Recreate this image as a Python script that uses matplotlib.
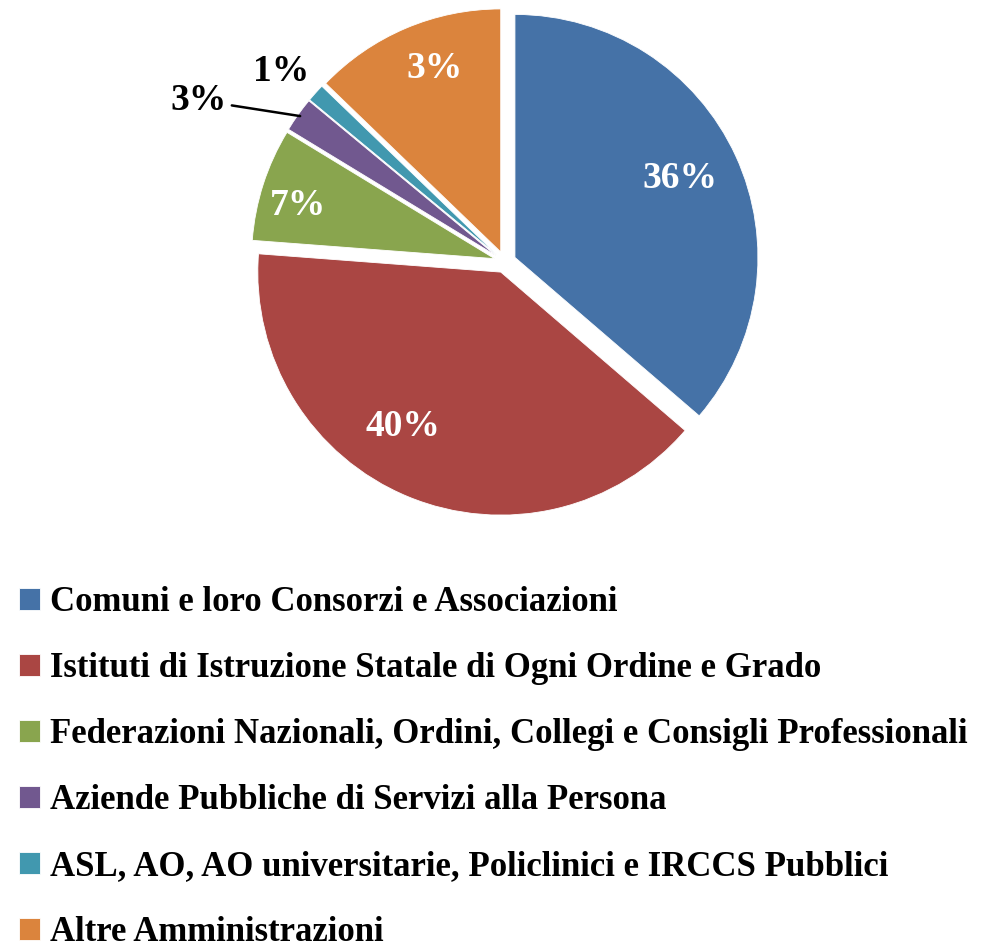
import numpy as np
import matplotlib
matplotlib.use("Agg")
import matplotlib.pyplot as plt

# ---- data ----
categories = [
    "Comuni e loro Consorzi e Associazioni",
    "Istituti di Istruzione Statale di Ogni Ordine e Grado",
    "Federazioni Nazionali, Ordini, Collegi e Consigli Professionali",
    "Aziende Pubbliche di Servizi alla Persona",
    "ASL, AO, AO universitarie, Policlinici e IRCCS Pubblici",
    "Altre Amministrazioni",
]
shares = [36.3, 39.9, 7.5, 2.3, 1.2, 12.8]
data_labels = ["36%", "40%", "7%", "3%", "1%", "3%"]

colors = ["#4572A7", "#AA4643", "#89A54E", "#71588F", "#4198AF", "#DB843D"]
FONT = "Liberation Serif"

# label placement (style): radius fraction and angle offset (deg) from wedge bisector
label_r = [0.754, 0.754, 0.84, 1.383, 1.164, 0.80]
label_dang = [1.0, -9.8, 2.6, 7.9, 1.5, -3.3]
label_inside = [True, True, True, False, False, True]

W, H = 993, 943
fig = plt.figure(figsize=(W / 100, H / 100), dpi=100)

R_PX = 243.0
LIM = 1.35
cx, cy = 505.0, 262.0
side = 2 * LIM * R_PX
ax = fig.add_axes([(cx - side / 2) / W, (H - cy - side / 2) / H, side / W, side / H])

wedges, _ = ax.pie(
    shares,
    colors=colors,
    startangle=90,
    counterclock=False,
    explode=[0.045] * len(shares),
    radius=1.0,
    wedgeprops=dict(edgecolor="white", linewidth=0.6),
)
ax.set_xlim(-LIM, LIM)
ax.set_ylim(-LIM, LIM)
ax.set_aspect("equal")
ax.axis("off")

for i, w in enumerate(wedges):
    mid = (w.theta1 + w.theta2) / 2
    ang = np.deg2rad(mid + label_dang[i])
    c = w.center
    pos = (c[0] + label_r[i] * np.cos(ang), c[1] + label_r[i] * np.sin(ang))
    style = dict(fontsize=27, family=FONT, weight="bold", ha="center", va="center")
    if label_inside[i]:
        ax.text(*pos, data_labels[i], color="white", **style)
    elif i == 3:
        m = np.deg2rad(mid)
        tip = (c[0] + 0.99 * np.cos(m), c[1] + 0.99 * np.sin(m))
        ax.annotate(data_labels[i], xy=tip, xytext=pos, color="black",
                    arrowprops=dict(arrowstyle="-", color="black", lw=1.8,
                                    shrinkA=2, shrinkB=0),
                    **style)
    else:
        ax.text(*pos, data_labels[i], color="black", **style)

leg = fig.legend(
    wedges, categories,
    loc="upper left",
    bbox_to_anchor=(19 / W, (H - 586) / H),
    frameon=False,
    prop=dict(family=FONT, weight="bold", size=25),
    handlelength=0.6, handleheight=0.6,
    handletextpad=0.28,
    labelspacing=0.95,
    borderpad=0, borderaxespad=0,
)

fig.savefig("out.png", dpi=100, facecolor="white")
